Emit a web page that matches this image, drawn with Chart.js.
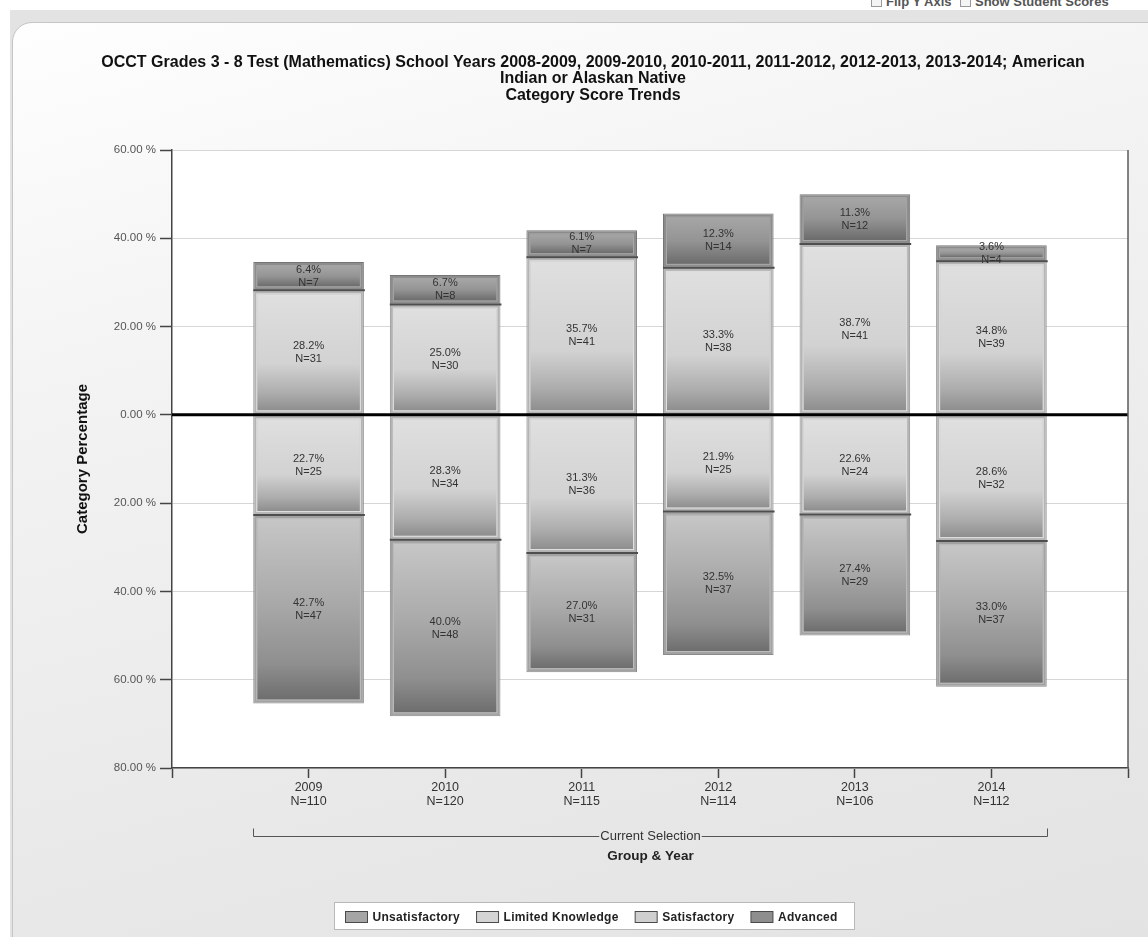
<!DOCTYPE html>
<html>
<head>
<meta charset="utf-8">
<script src="https://cdn.jsdelivr.net/npm/chart.js@4.4.1/dist/chart.umd.min.js"></script>
<style>
  html, body { margin: 0; padding: 0; width: 1148px; height: 937px; overflow: hidden; background: #ffffff; font-family: "Liberation Sans", Arial, sans-serif; }
  #frame { position: absolute; left: 10px; top: 10px; width: 1138px; height: 927px; background: #e3e3e3; }
  #panel { position: absolute; left: 12px; top: 22px; width: 1180px; height: 960px; border: 1px solid #c6c6c6; border-top-left-radius: 20px;
           background: linear-gradient(165deg, #fefefe 0%, #f3f3f3 30%, #e8e8e8 70%, #e2e2e2 100%); }
  #toolbar { position: absolute; left: 0; top: 0; width: 1148px; height: 13px; overflow: hidden; }
  #toolbar .opt { position: absolute; top: -6px; font-size: 13px; font-weight: bold; color: #555; white-space: nowrap; }
  #toolbar .box { display: inline-block; width: 9px; height: 9px; border: 1px solid #999; background: #f4f4f4; margin-right: 4px; vertical-align: -1px; }
  #stage { position: absolute; left: 0; top: 0; }
</style>
</head>
<body>
<div id="frame"></div>
<div id="panel"></div>
<div id="toolbar">
  <span class="opt" style="left:871px"><span class="box"></span>Flip Y Axis</span>
  <span class="opt" style="left:960px"><span class="box"></span>Show Student Scores</span>
</div>
<canvas id="stage" width="1148" height="937"></canvas>
<script>
// ---- values ----
const years = ['2009', '2010', '2011', '2012', '2013', '2014'];
const yearTotals = [110, 120, 115, 114, 106, 112];

const unsatisfactoryPct = [42.7, 40.0, 27.0, 32.5, 27.4, 33.0];
const unsatisfactoryN   = [47, 48, 31, 37, 29, 37];
const limitedPct        = [22.7, 28.3, 31.3, 21.9, 22.6, 28.6];
const limitedN          = [25, 34, 36, 25, 24, 32];
const satisfactoryPct   = [28.2, 25.0, 35.7, 33.3, 38.7, 34.8];
const satisfactoryN     = [31, 30, 41, 38, 41, 39];
const advancedPct       = [6.4, 6.7, 6.1, 12.3, 11.3, 3.6];
const advancedN         = [7, 8, 7, 14, 12, 4];

const yTickValues = [60, 40, 20, 0, -20, -40, -60, -80];
const legendOrder = ['Unsatisfactory', 'Limited Knowledge', 'Satisfactory', 'Advanced'];

const titleLines = [
  'OCCT Grades 3 - 8 Test (Mathematics) School Years 2008-2009, 2009-2010, 2010-2011, 2011-2012, 2012-2013, 2013-2014; American',
  'Indian or Alaskan Native',
  'Category Score Trends'
];
const yAxisTitle = 'Category Percentage';
const bracketText = 'Current Selection';
const xAxisTitle = 'Group & Year';

// ---- styling per performance level ----
const looks = {
  'Unsatisfactory':    { swatch: '#a5a5a5', band: '#a2a2a2', edge: '#8a8a8a', glow: '#bdbdbd',
                         stops: [[0, '#c6c6c6'], [0.45, '#aaaaaa'], [0.8, '#8f8f8f'], [1, '#6e6e6e']] },
  'Limited Knowledge': { swatch: '#d4d4d4', band: '#b4b4b4', edge: '#939393', glow: '#e2e2e2',
                         stops: [[0, '#dfdfdf'], [0.6, '#d2d2d2'], [0.85, '#adadad'], [1, '#8e8e8e']] },
  'Satisfactory':      { swatch: '#cfcfcf', band: '#b4b4b4', edge: '#939393', glow: '#e2e2e2',
                         stops: [[0, '#dfdfdf'], [0.6, '#d2d2d2'], [0.85, '#adadad'], [1, '#8e8e8e']] },
  'Advanced':          { swatch: '#8e8e8e', band: '#8c8c8c', edge: '#757575', glow: '#a8a8a8',
                         stops: [[0, '#a6a6a6'], [0.5, '#949494'], [1, '#6c6c6c']] }
};

// ---- category slots: one empty slot either side of the years ----
const xLabels = [''].concat(years.map((y, i) => [y, 'N=' + yearTotals[i]]), ['']);
const pad = arr => [null].concat(arr, [null]);
const neg = arr => arr.map(v => -v);

// stacking order: levels nearest the zero line come first
const datasets = [
  { label: 'Limited Knowledge', data: pad(neg(limitedPct)), counts: pad(limitedN), pct: pad(limitedPct) },
  { label: 'Unsatisfactory',    data: pad(neg(unsatisfactoryPct)), counts: pad(unsatisfactoryN), pct: pad(unsatisfactoryPct) },
  { label: 'Satisfactory',      data: pad(satisfactoryPct), counts: pad(satisfactoryN), pct: pad(satisfactoryPct) },
  { label: 'Advanced',          data: pad(advancedPct), counts: pad(advancedN), pct: pad(advancedPct) }
].map(ds => Object.assign(ds, {
  backgroundColor: looks[ds.label].band,
  borderColor: looks[ds.label].edge,
  borderWidth: 1,
  borderSkipped: false,
  categoryPercentage: 0.81,
  barPercentage: 1
}));

const FONT = '"Liberation Sans", Arial, sans-serif';

const decorations = {
  id: 'decorations',
  beforeDraw(chart) {
    const { ctx, chartArea: a } = chart;
    ctx.save();
    ctx.fillStyle = '#ffffff';
    ctx.fillRect(a.left, a.top, a.right - a.left, a.bottom - a.top);

    // title
    ctx.fillStyle = '#111';
    ctx.font = 'bold 16px ' + FONT;
    ctx.textAlign = 'center';
    ctx.textBaseline = 'middle';
    titleLines.forEach((line, i) => ctx.fillText(line, 593, 62.5 + i * 16.5));

    // y axis title
    ctx.save();
    ctx.translate(83, (a.top + a.bottom) / 2);
    ctx.rotate(-Math.PI / 2);
    ctx.font = 'bold 15px ' + FONT;
    ctx.fillText(yAxisTitle, 0, 0);
    ctx.restore();
    ctx.restore();
  },
  afterDatasetsDraw(chart) {
    const { ctx, chartArea: a } = chart;
    const y = chart.scales.y;
    ctx.save();
    const boxes = [];
    chart.data.datasets.forEach((ds, di) => {
      const look = looks[ds.label];
      chart.getDatasetMeta(di).data.forEach((bar, i) => {
        if (ds.data[i] == null) return;
        const p = bar.getProps(['x', 'y', 'base', 'width'], true);
        const l = p.x - p.width / 2, r = p.x + p.width / 2;
        const t = Math.min(p.y, p.base), b = Math.max(p.y, p.base);
        const ins = 4;
        const g = ctx.createLinearGradient(0, t + ins, 0, b - ins);
        look.stops.forEach(([o, c]) => g.addColorStop(o, c));
        ctx.fillStyle = g;
        ctx.fillRect(l + ins, t + ins, r - l - 2 * ins, b - t - 2 * ins);
        ctx.strokeStyle = look.glow;
        ctx.lineWidth = 1;
        ctx.strokeRect(l + ins - 0.5, t + ins - 0.5, r - l - 2 * ins + 1, b - t - 2 * ins + 1);
        boxes.push({ ds, i, l, r, t, b, cx: p.x });
      });
    });

    // dark seam where two levels meet
    ctx.strokeStyle = '#4e4e4e';
    ctx.lineWidth = 2;
    boxes.forEach(bx => {
      let sy = null;
      if (bx.ds.label === 'Advanced') sy = bx.b;
      if (bx.ds.label === 'Unsatisfactory') sy = bx.t;
      if (sy !== null) {
        ctx.beginPath();
        ctx.moveTo(bx.l, sy);
        ctx.lineTo(bx.r + 1, sy);
        ctx.stroke();
      }
    });

    // zero line
    const y0 = y.getPixelForValue(0);
    ctx.strokeStyle = '#000';
    ctx.lineWidth = 3;
    ctx.beginPath();
    ctx.moveTo(a.left, y0);
    ctx.lineTo(a.right, y0);
    ctx.stroke();

    // right frame line
    ctx.strokeStyle = '#5a5a5a';
    ctx.lineWidth = 1.5;
    ctx.beginPath();
    ctx.moveTo(a.right, a.top);
    ctx.lineTo(a.right, a.bottom);
    ctx.stroke();

    // value labels
    ctx.fillStyle = '#333';
    ctx.font = '11px ' + FONT;
    ctx.textAlign = 'center';
    ctx.textBaseline = 'middle';
    boxes.forEach(bx => {
      const mid = (bx.t + bx.b) / 2;
      ctx.fillText(bx.ds.pct[bx.i].toFixed(1) + '%', bx.cx, mid - 6.5);
      ctx.fillText('N=' + bx.ds.counts[bx.i], bx.cx, mid + 6.5);
    });
    ctx.restore();
  },
  afterDraw(chart) {
    const { ctx, chartArea: a } = chart;
    ctx.save();
    // selection bracket spanning the year bars
    const meta = chart.getDatasetMeta(0).data;
    const first = meta[1].getProps(['x', 'width'], true);
    const last = meta[years.length].getProps(['x', 'width'], true);
    const bl = Math.round(first.x - first.width / 2) + 0.5;
    const br = Math.round(last.x + last.width / 2) + 0.5;
    const by = a.bottom + 68.5;
    const bc = (bl + br) / 2;
    ctx.font = '13px ' + FONT;
    const tw = ctx.measureText(bracketText).width;
    ctx.strokeStyle = '#555';
    ctx.lineWidth = 1;
    ctx.beginPath();
    ctx.moveTo(bl, by - 8); ctx.lineTo(bl, by); ctx.lineTo(bc - tw / 2 - 1, by);
    ctx.moveTo(bc + tw / 2 + 1, by); ctx.lineTo(br, by); ctx.lineTo(br, by - 8);
    ctx.stroke();
    ctx.fillStyle = '#333';
    ctx.textAlign = 'center';
    ctx.textBaseline = 'middle';
    ctx.fillText(bracketText, bc, by);
    ctx.font = 'bold 13.5px ' + FONT;
    ctx.fillStyle = '#222';
    ctx.fillText(xAxisTitle, bc, by + 19.5);

    // legend box
    const lx = 334.5, ly = 902.5, lw = 520, lh = 27;
    ctx.fillStyle = '#fff';
    ctx.fillRect(lx, ly, lw, lh);
    ctx.strokeStyle = '#b8b8b8';
    ctx.strokeRect(lx, ly, lw, lh);
    ctx.font = 'bold 12px ' + FONT;
    ctx.letterSpacing = '0.3px';
    ctx.textAlign = 'left';
    let cx = 345.5;
    legendOrder.forEach(name => {
      ctx.fillStyle = looks[name].swatch;
      ctx.fillRect(cx, 911.5, 22, 11);
      ctx.strokeStyle = '#4a4a4a';
      ctx.strokeRect(cx, 911.5, 22, 11);
      ctx.fillStyle = '#222';
      ctx.fillText(name, cx + 27, 917.5);
      cx += 27 + ctx.measureText(name).width + 16.5;
    });
    ctx.restore();
  }
};

new Chart(document.getElementById('stage'), {
  type: 'bar',
  data: { labels: xLabels, datasets },
  options: {
    responsive: false,
    animation: false,
    layout: { padding: { top: 150, left: 0, right: 20, bottom: 0 } },
    plugins: { legend: { display: false }, title: { display: false }, tooltip: { enabled: false } },
    scales: {
      x: {
        type: 'category',
        stacked: true,
        offset: false,
        grid: { display: true, drawOnChartArea: false, offset: false, tickLength: 10, tickColor: '#444', tickWidth: 1.5 },
        border: { color: '#444', width: 1.5 },
        ticks: { autoSkip: false, maxRotation: 0, padding: 2, color: '#333', font: { family: FONT, size: 12.5, lineHeight: 1.15 } },
        afterFit: s => { s.height = 937 - 768; }
      },
      y: {
        stacked: true,
        min: -80,
        max: 60,
        afterBuildTicks: s => { s.ticks = yTickValues.map(v => ({ value: v })); },
        grid: { color: '#d6d6d6', lineWidth: 1, tickColor: '#444', tickLength: 12, tickWidth: 1.5 },
        border: { color: '#444', width: 1.5 },
        ticks: { padding: 4, color: '#555', font: { family: FONT, size: 11.5 },
                 callback: v => Math.abs(v).toFixed(2) + ' %' },
        afterFit: s => { s.width = 172; }
      }
    }
  },
  plugins: [decorations]
});
</script>
</body>
</html>
